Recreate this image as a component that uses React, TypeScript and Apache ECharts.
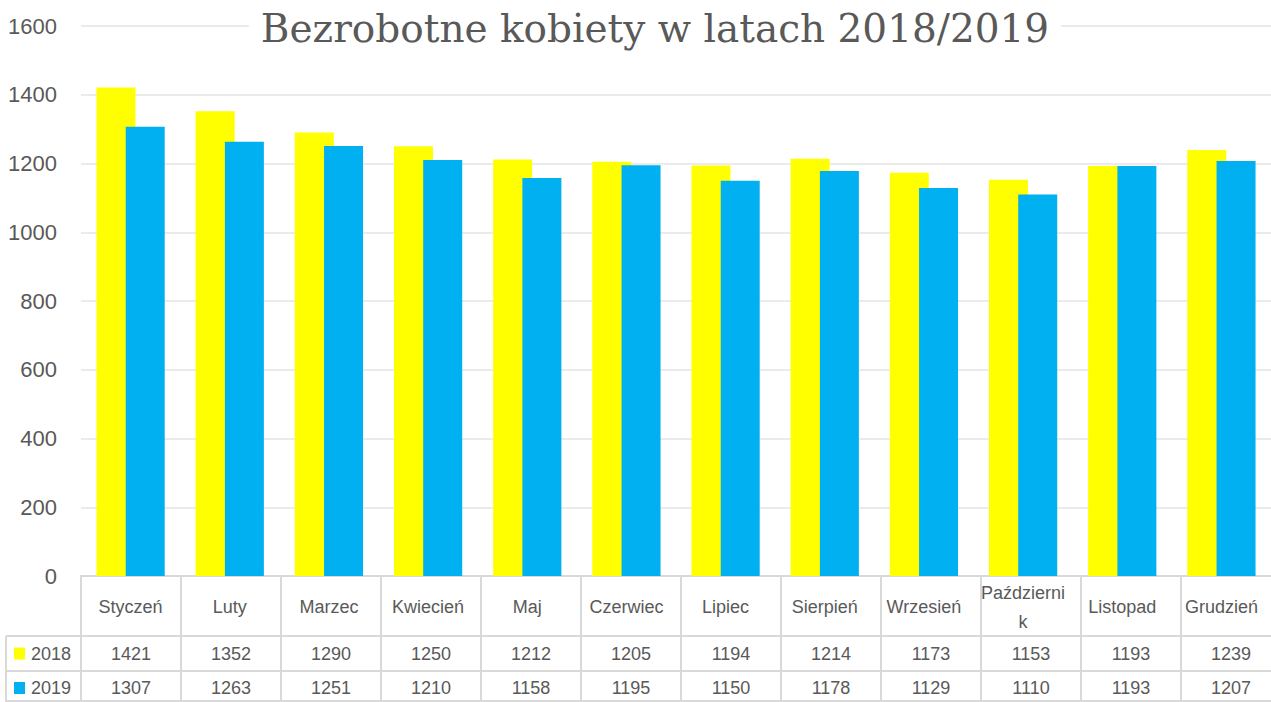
import React, { useEffect, useRef } from "react";
import * as echarts from "echarts";

const categories = ["Styczeń", "Luty", "Marzec", "Kwiecień", "Maj", "Czerwiec", "Lipiec", "Sierpień", "Wrzesień", "Październik", "Listopad", "Grudzień"];
const series2018 = [1421, 1352, 1290, 1250, 1212, 1205, 1194, 1214, 1173, 1153, 1193, 1239];
const series2019 = [1307, 1263, 1251, 1210, 1158, 1195, 1150, 1178, 1129, 1110, 1193, 1207];
const seriesNames = ["2018", "2019"];
const colors = ["#FFFF00", "#00B0F0"];
const titleText = "Bezrobotne kobiety w latach 2018/2019";

const GRID_LEFT = 81;
const GRID_TOP = 26;
const COL_W = 100;
const GRID_H = 550;
const TEXT = "#595959";
const LINE = "#d9d9d9";
const FONT = "Liberation Sans";

// Excel wraps the long month name in its table cell
const wrapLabel = (v: string) => (v.length > 10 ? v.slice(0, 10) + "\n" + v.slice(10) : v);

export default function App() {
  const ref = useRef<HTMLDivElement>(null);
  useEffect(() => {
    const chart = echarts.init(ref.current!, null, { renderer: "svg" });
    const n = categories.length;
    const axisY = GRID_TOP + GRID_H;
    const row1 = 636;
    const row2 = 671;
    const bottom = 702;
    const right = GRID_LEFT + COL_W * n;
    const graphics: any[] = [];
    [row1, row2, bottom - 1].forEach((y) => {
      graphics.push({ type: "line", shape: { x1: 6, y1: y, x2: right, y2: y }, style: { stroke: LINE, lineWidth: 2 }, z: 1 });
    });
    for (let i = 0; i <= n; i++) {
      const x = GRID_LEFT + COL_W * i;
      graphics.push({ type: "line", shape: { x1: x, y1: axisY, x2: x, y2: bottom }, style: { stroke: LINE, lineWidth: 2 }, z: 1 });
    }
    graphics.push({ type: "line", shape: { x1: 6, y1: row1, x2: 6, y2: bottom }, style: { stroke: LINE, lineWidth: 2 }, z: 1 });
    const rows = [series2018, series2019];
    const rowCenters = [653.5, 688];
    rows.forEach((vals, r) => {
      const cy = rowCenters[r];
      graphics.push({ type: "rect", shape: { x: 14, y: cy - 6, width: 11, height: 12 }, style: { fill: colors[r] }, z: 2 });
      graphics.push({ type: "text", x: 31, y: cy, style: { text: seriesNames[r], fill: TEXT, font: `18px '${FONT}'`, textAlign: "left", textVerticalAlign: "middle" }, z: 2 });
      vals.forEach((v, i) => {
        graphics.push({
          type: "text",
          x: GRID_LEFT + COL_W * i + COL_W / 2,
          y: cy,
          style: { text: String(v), fill: TEXT, font: `18px '${FONT}'`, textAlign: "center", textVerticalAlign: "middle" },
          z: 2,
        });
      });
    });

    chart.setOption({
      animation: false,
      backgroundColor: "#ffffff",
      title: {
        text: titleText,
        left: 643,
        textAlign: "center",
        top: 9,
        backgroundColor: "#ffffff",
        padding: [0, 12],
        textStyle: { fontFamily: "DejaVu Serif", fontWeight: "normal", fontSize: 39, color: TEXT },
      },
      grid: { left: GRID_LEFT, top: GRID_TOP, width: COL_W * n, height: GRID_H, containLabel: false },
      xAxis: {
        type: "category",
        data: categories,
        axisLine: { show: true, lineStyle: { color: LINE, width: 2 } },
        axisTick: { show: false },
        axisLabel: {
          color: TEXT,
          fontFamily: FONT,
          fontSize: 18,
          margin: 31,
          verticalAlign: "middle",
          lineHeight: 29,
          interval: 0,
          formatter: wrapLabel,
        },
      },
      yAxis: {
        type: "value",
        min: 0,
        max: 1600,
        interval: 200,
        axisLine: { show: false },
        axisTick: { show: false },
        axisLabel: { color: TEXT, fontFamily: FONT, fontSize: 22, margin: 24, formatter: (v: number) => String(v) },
        splitLine: { lineStyle: { color: "#ebebeb", width: 2 } },
      },
      series: [
        { name: seriesNames[0], type: "bar", data: series2018, barWidth: 39, barGap: "-25%", itemStyle: { color: colors[0] }, z: 2 },
        { name: seriesNames[1], type: "bar", data: series2019, barWidth: 39, barGap: "-25%", itemStyle: { color: colors[1] }, z: 3 },
      ],
      graphic: graphics,
    });
    return () => chart.dispose();
  }, []);
  return <div ref={ref} style={{ position: "fixed", left: 0, top: 0, width: 1271, height: 702 }} />;
}
